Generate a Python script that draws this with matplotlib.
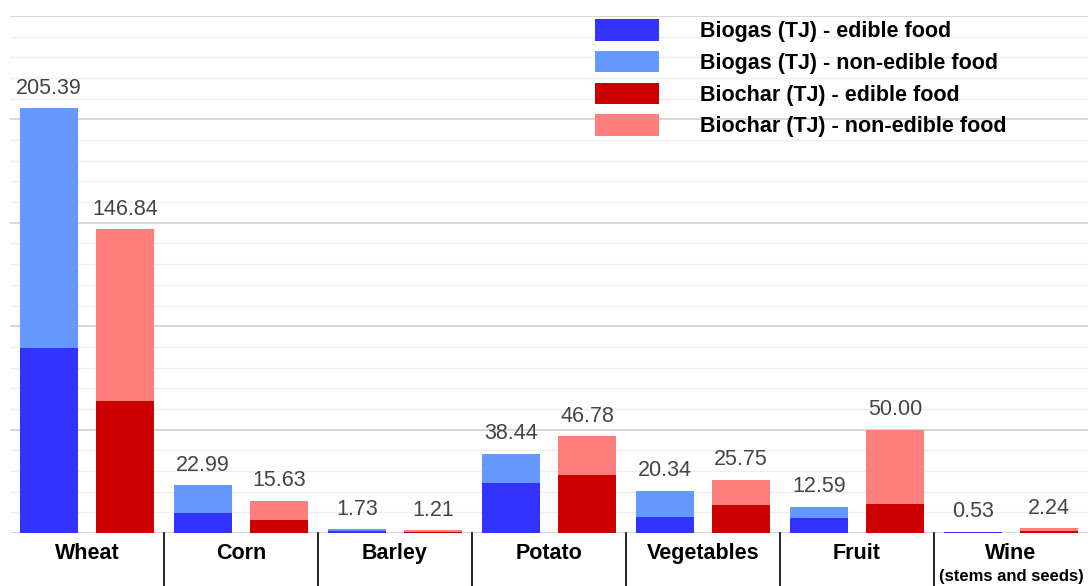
import matplotlib
matplotlib.use("Agg")
import matplotlib.pyplot as plt
import numpy as np

categories = ["Wheat", "Corn", "Barley", "Potato", "Vegetables", "Fruit", "Wine"]
biogas_total = [205.39, 22.99, 1.73, 38.44, 20.34, 12.59, 0.53]
biogas_edible = [89.5, 9.5, 0.9, 24.3, 7.9, 7.3, 0.3]
biochar_total = [146.84, 15.63, 1.21, 46.78, 25.75, 50.00, 2.24]
biochar_edible = [64.0, 6.3, 0.6, 28.0, 13.5, 13.9, 1.0]
legend_labels = ["Biogas (TJ) - edible food", "Biogas (TJ) - non-edible food",
                 "Biochar (TJ) - edible food", "Biochar (TJ) - non-edible food"]

c_gas_e, c_gas_n = "#3333ff", "#6699ff"
c_char_e, c_char_n = "#cc0000", "#ff7f7f"

plt.rcParams['font.family'] = ['Liberation Sans', 'DejaVu Sans']
fig = plt.figure(figsize=(10.9, 5.86), dpi=100)
W, H = 1090, 586
ax = fig.add_axes([10 / W, (H - 533) / H, 1078 / W, 517 / H])

x = np.arange(len(categories))
bw = 0.377
off = 0.247
bg_e = np.array(biogas_edible)
bg_n = np.array(biogas_total) - bg_e
bc_e = np.array(biochar_edible)
bc_n = np.array(biochar_total) - bc_e

h1 = ax.bar(x - off, bg_e, bw, color=c_gas_e, zorder=3)
h2 = ax.bar(x - off, bg_n, bw, bottom=bg_e, color=c_gas_n, zorder=3)
h3 = ax.bar(x + off, bc_e, bw, color=c_char_e, zorder=3)
h4 = ax.bar(x + off, bc_n, bw, bottom=bc_e, color=c_char_n, zorder=3)

for xi, t in zip(x - off, biogas_total):
    ax.annotate(f"{t:.2f}", (xi, t), xytext=(0, 7), textcoords="offset points",
                ha="center", va="bottom", fontsize=15.5, color="#444444")
for xi, t in zip(x + off, biochar_total):
    ax.annotate(f"{t:.2f}", (xi, t), xytext=(0, 7), textcoords="offset points",
                ha="center", va="bottom", fontsize=15.5, color="#444444")

ax.set_xlim(-0.5, len(categories) - 0.5)
ax.set_ylim(0, 250)
ax.set_yticks(np.arange(0, 251, 50))
ax.set_yticks(np.arange(0, 251, 10), minor=True)
ax.grid(axis="y", which="major", color="#d0d0d0", linewidth=1.2, zorder=0)
ax.grid(axis="y", which="minor", color="#eeeeee", linewidth=1.0, zorder=0)
ax.tick_params(axis="y", which="both", left=False, labelleft=False)
ax.tick_params(axis="x", bottom=False, labelbottom=False)
for s in ax.spines.values():
    s.set_visible(False)

trans = ax.get_xaxis_transform()
for i, name in enumerate(categories):
    ax.text(i, -0.02, name, transform=trans, ha="center", va="top",
            fontsize=15.5, fontweight="bold", color="black")
ax.text(len(categories) - 1, -0.07, "(stems and seeds)", transform=trans,
        ha="center", va="top", fontsize=12, fontweight="bold", color="black")
for i in range(1, len(categories)):
    ax.plot([i - 0.5, i - 0.5], [0, -0.11], transform=trans, color="black",
            linewidth=1.2, clip_on=False)

leg = ax.legend([h1, h2, h3, h4], legend_labels, loc="upper left",
                bbox_to_anchor=(578 / W, 1 - 2 / H), bbox_transform=fig.transFigure,
                frameon=False, prop={"weight": "bold", "size": 15.5},
                handlelength=2.96, handleheight=1.16, handletextpad=1.9,
                labelspacing=0.4, borderpad=0.3)

fig.savefig("out.png", dpi=100)
